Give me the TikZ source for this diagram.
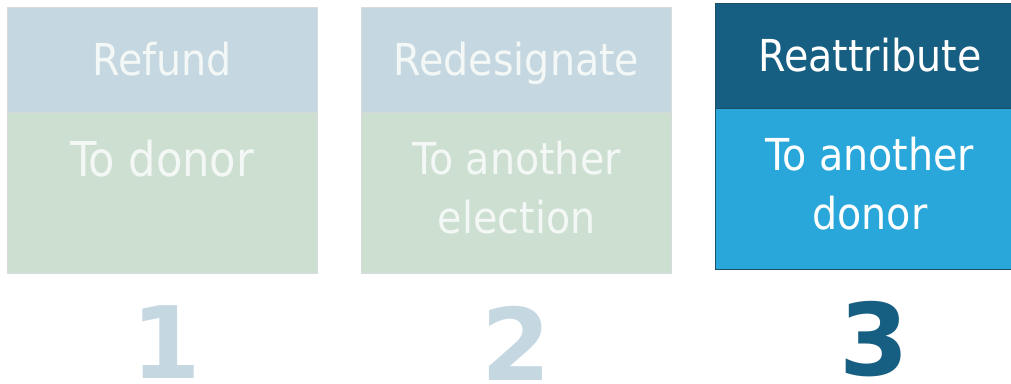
\documentclass[tikz,border=0pt]{standalone}
\usepackage{fontspec}
\usepackage{tikz}
\usetikzlibrary{positioning}
\newfontfamily\condfont{DejaVu Sans Condensed}
\newfontfamily\numfont{DejaVu Sans}

\definecolor{headlight}{HTML}{C5D7E0}
\definecolor{bodylight}{HTML}{CCDFD0}
\definecolor{headdark}{HTML}{175F82}
\definecolor{bodydark}{HTML}{29A7DA}
\definecolor{edgelight}{HTML}{D6DCDC}
\definecolor{edgedark}{HTML}{1D4E68}
\definecolor{textlight}{HTML}{F3F7F5}

\begin{document}
\begin{tikzpicture}[
            x = 1pt, y = -1pt, % pixel units, y down
            node distance = 0pt,
            inner sep = 0pt
        ]

        \tikzstyle{head}=[
            rectangle,
            minimum width = 310pt,
            minimum height = 105pt,
            text height = 32pt,
            text depth = 0pt,
            font = \condfont\fontsize{44}{59}\selectfont
        ]
        \tikzstyle{body}=[
            rectangle,
            minimum width = 310pt,
            minimum height = 161pt
        ]
        \tikzstyle{bodytext}=[
            align = center,
            anchor = north,
            font = \condfont\fontsize{44}{59}\selectfont
        ]
        \tikzstyle{num}=[
            anchor = north,
            font = \numfont\bfseries\fontsize{100}{100}\selectfont
        ]

        \useasboundingbox (0,0) rectangle (1011,383);

        % refund
        \node[head, fill=headlight, draw=edgelight, text=textlight, anchor=north west] (h1) at (7,7) {Refund};
        \node[body, fill=bodylight, draw=edgelight] (b1) [below=of h1] {};
        \node[bodytext, text=textlight, font=\condfont\fontsize{48}{59}\selectfont] (t1) [below=27pt of b1.north] {To donor};
        \node[num, text=headlight] (n1) [below=32pt of b1.south, xshift=4pt] {1};

        % redesignate
        \node[head, fill=headlight, draw=edgelight, text=textlight] (h2) [right=44pt of h1] {Redesignate};
        \node[body, fill=bodylight, draw=edgelight] (b2) [below=of h2] {};
        \node[bodytext, text=textlight] (t2) [below=28pt of b2.north] {To another\\election};
        \node[num, text=headlight] (n2) [below=32pt of b2.south] {2};

        % reattribute
        \node[head, fill=headdark, draw=edgedark, text=white] (h3) [right=43pt of h2, yshift=4pt] {Reattribute};
        \node[body, fill=bodydark, draw=edgedark] (b3) [below=of h3] {};
        \node[bodytext, text=white] (t3) [below=28pt of b3.north] {To another\\donor};
        \node[num, text=headdark] (n3) [below=31pt of b3.south, xshift=4pt] {3};

    \end{tikzpicture}
\end{document}
